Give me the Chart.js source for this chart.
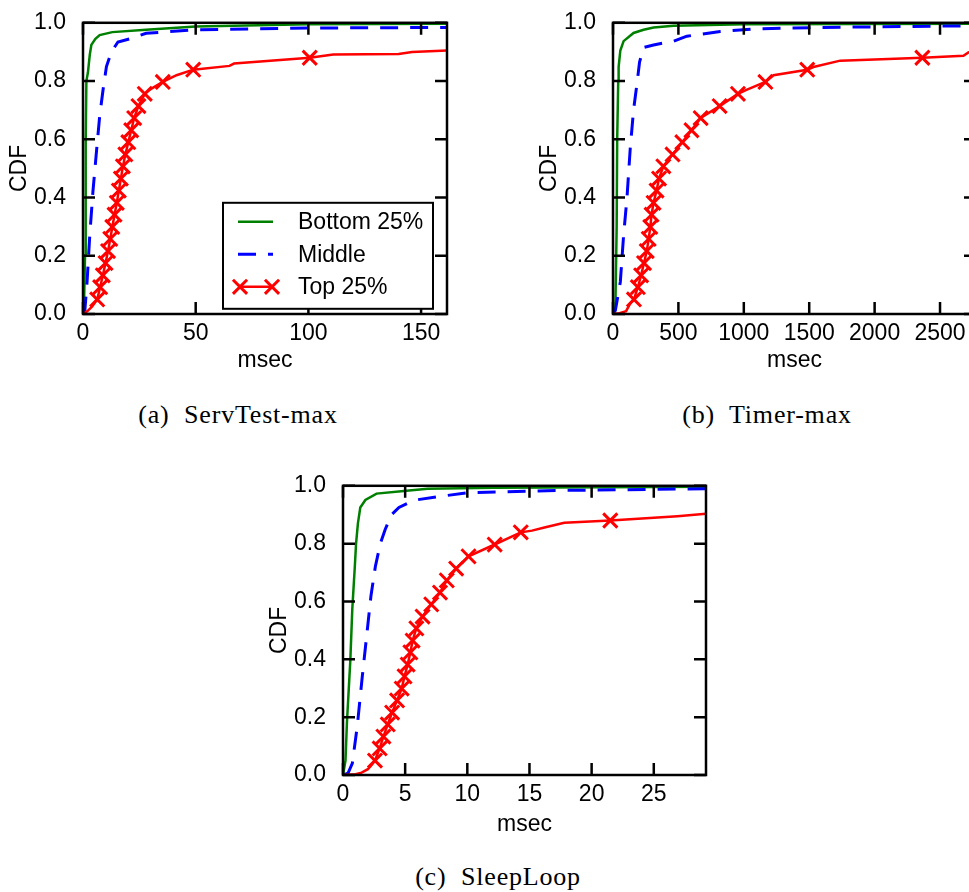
<!DOCTYPE html>
<html>
<head>
<meta charset="utf-8">
<script src="https://cdn.jsdelivr.net/npm/chart.js@4.4.1/dist/chart.umd.min.js"></script>
<style>
  html, body { margin: 0; padding: 0; width: 969px; height: 892px; overflow: hidden; background: #fff; }
  canvas { position: absolute; }
  .cap {
    position: absolute;
    font-family: 'Liberation Serif', 'Times New Roman', serif;
    font-size: 26px;
    line-height: 26px;
    letter-spacing: 0.8px;
    white-space: pre;
    color: #000;
    transform: translateX(-50%);
  }
</style>
</head>
<body>
<canvas id="servChart" width="460" height="380" style="left:0px;top:0px"></canvas>
<canvas id="timerChart" width="459" height="380" style="left:530px;top:0px"></canvas>
<canvas id="sleepChart" width="459" height="378" style="left:260px;top:463px"></canvas>
<div class="cap" style="left:238px;top:402px">(a)  ServTest-max</div>
<div class="cap" style="left:767px;top:402px">(b)  Timer-max</div>
<div class="cap" style="left:498px;top:864px">(c)  SleepLoop</div>

<script>
// tick labels
const yTicks = [0, 0.2, 0.4, 0.6, 0.8, 1.0];
const servTicks = [0, 50, 100, 150];
const timerTicks = [0, 500, 1000, 1500, 2000, 2500];
const sleepTicks = [0, 5, 10, 15, 20, 25];
const seriesNames = ['Bottom 25%', 'Middle', 'Top 25%'];

// CDF levels where the "Top 25%" curve carries an X marker (same in all panels)
const markCdf = [0.05, 0.092, 0.133, 0.175, 0.216, 0.258, 0.299, 0.341, 0.382, 0.424, 0.465,
                 0.507, 0.548, 0.59, 0.631, 0.673, 0.714, 0.756, 0.797, 0.839, 0.88];

// (a) ServTest-max, msec
const servBottomMs  = [0, 0.5, 0.9, 1.2, 1.5, 2.2, 3.0, 3.7, 5.5, 7.4, 13, 28, 50, 100, 161.5];
const servBottomCdf = [0, 0.05, 0.2, 0.6, 0.8, 0.83, 0.89, 0.924, 0.945, 0.958, 0.968, 0.976, 0.987, 0.995, 0.997];
const servMiddleMs  = [0, 0.8, 1.8, 3.0, 4.4, 6.0, 7.4, 8.9, 10.4, 12.6, 15.5, 20.7, 28, 50, 100, 161.5];
const servMiddleCdf = [0, 0.01, 0.11, 0.27, 0.42, 0.56, 0.68, 0.77, 0.85, 0.9, 0.934, 0.945, 0.964, 0.976, 0.982, 0.984];
const servTopMs  = [0, 2, 4, 6.3, 7.6, 8.8, 10.0, 11.1, 12.1, 13.0, 14.0, 15.0, 15.9, 16.8, 17.7, 18.8, 20.1, 21.4,
                    22.7, 24.6, 27.4, 30.4, 35.4, 41.5, 48.9, 65, 67, 100.6, 111, 140, 146, 161.5];
const servTopCdf = [0, 0.01, 0.025, 0.05, 0.092, 0.133, 0.175, 0.216, 0.258, 0.299, 0.341, 0.382, 0.424, 0.465, 0.507,
                    0.548, 0.59, 0.631, 0.673, 0.714, 0.756, 0.774, 0.797, 0.82, 0.839, 0.852, 0.86, 0.88, 0.891,
                    0.893, 0.9, 0.905];
const servTopMarkMs = [6.3, 7.6, 8.8, 10.0, 11.1, 12.1, 13.0, 14.0, 15.0, 15.9, 16.8, 17.7, 18.8, 20.1, 21.4, 22.7,
                       24.6, 27.4, 35.4, 48.9, 100.6];

// (b) Timer-max, msec
const timerBottomMs  = [0, 18, 28, 32, 40, 43, 56, 81, 157, 234, 310, 463, 1000, 2775];
const timerBottomCdf = [0, 0.02, 0.3, 0.6, 0.8, 0.848, 0.905, 0.937, 0.965, 0.976, 0.984, 0.99, 0.995, 0.997];
const timerMiddleMs  = [0, 18, 56, 81, 107, 132, 157, 183, 203, 234, 310, 463, 540, 565, 820, 1074, 1584, 2775];
const timerMiddleCdf = [0, 0.012, 0.11, 0.27, 0.40, 0.57, 0.70, 0.79, 0.865, 0.915, 0.924, 0.937, 0.95, 0.954,
                        0.97, 0.979, 0.984, 0.99];
const timerTopMs  = [0, 50, 100, 130, 160, 190, 215, 237, 258, 273, 285, 295, 310, 333, 352, 385, 455, 530, 600,
                     670, 815, 955, 1020, 1165, 1227, 1485, 1532, 1737, 2365, 2679, 2717, 2775];
const timerTopCdf = [0, 0.003, 0.01, 0.035, 0.05, 0.092, 0.133, 0.175, 0.216, 0.258, 0.299, 0.341, 0.382, 0.424,
                     0.465, 0.507, 0.548, 0.59, 0.631, 0.673, 0.714, 0.756, 0.77, 0.797, 0.82, 0.839, 0.848, 0.87,
                     0.88, 0.887, 0.898, 0.905];
const timerTopMarkMs = [160, 190, 215, 237, 258, 273, 285, 295, 310, 333, 352, 385, 455, 530, 600, 670, 815, 955,
                        1165, 1485, 2365];

// (c) SleepLoop, msec
const sleepBottomMs  = [0, 0.2, 0.32, 0.59, 0.75, 0.95, 1.05, 1.2, 1.39, 1.8, 2.7, 4.9, 6.8, 12.1, 29.2];
const sleepBottomCdf = [0, 0.05, 0.185, 0.397, 0.576, 0.72, 0.8, 0.87, 0.925, 0.951, 0.973, 0.982, 0.99, 0.993, 0.997];
const sleepMiddleMs  = [0, 0.4, 0.75, 1.15, 1.55, 1.9, 2.25, 2.6, 3.0, 3.4, 3.9, 4.5, 5.7, 7.6, 10, 17.5, 29.2];
const sleepMiddleCdf = [0, 0.006, 0.04, 0.17, 0.34, 0.48, 0.62, 0.72, 0.8, 0.85, 0.9, 0.925, 0.95, 0.962, 0.976,
                        0.984, 0.99];
const sleepTopMs  = [0, 1, 1.5, 2.0, 2.3, 2.57, 2.95, 3.25, 3.6, 3.95, 4.35, 4.72, 4.95, 5.2, 5.42, 5.6, 5.9, 6.4,
                     7.1, 7.8, 8.35, 9.1, 10.1, 12.2, 14.3, 15.2, 16.2, 17.8, 21.5, 26.9, 29.2];
const sleepTopCdf = [0, 0.003, 0.008, 0.02, 0.035, 0.05, 0.092, 0.133, 0.175, 0.216, 0.258, 0.299, 0.341, 0.382,
                     0.424, 0.465, 0.507, 0.548, 0.59, 0.631, 0.673, 0.714, 0.756, 0.797, 0.839, 0.845, 0.856,
                     0.872, 0.88, 0.895, 0.903];
const sleepTopMarkMs = [2.57, 2.95, 3.25, 3.6, 3.95, 4.35, 4.72, 4.95, 5.2, 5.42, 5.6, 5.9, 6.4, 7.1, 7.8, 8.35,
                        9.1, 10.1, 12.2, 14.3, 21.5];

const GREEN = '#008000';
const BLUE = '#0000ff';
const RED = '#ff0000';

Chart.defaults.font.family = "'Liberation Sans', Arial, Helvetica, sans-serif";
Chart.defaults.font.size = 23;
Chart.defaults.color = '#000';

function pts(xs, ys) {
  return xs.map((v, i) => ({ x: v, y: ys[i] }));
}

// box + inward ticks on all four sides, like the original plots
const frame = {
  id: 'frame',
  afterDatasetsDraw(chart) {
    const { ctx, chartArea: a, scales: { x, y } } = chart;
    const len = 12;
    ctx.save();
    ctx.strokeStyle = '#000';
    ctx.lineWidth = 2.5;
    ctx.beginPath();
    x.ticks.forEach(t => {
      const px = x.getPixelForValue(t.value);
      ctx.moveTo(px, a.bottom); ctx.lineTo(px, a.bottom - len);
      ctx.moveTo(px, a.top); ctx.lineTo(px, a.top + len);
    });
    y.ticks.forEach(t => {
      const py = y.getPixelForValue(t.value);
      ctx.moveTo(a.left, py); ctx.lineTo(a.left + len, py);
      ctx.moveTo(a.right, py); ctx.lineTo(a.right - len, py);
    });
    ctx.stroke();
    ctx.strokeRect(a.left, a.top, a.right - a.left, a.bottom - a.top);
    ctx.restore();
  }
};

// legend drawn as a framed box inside the plot (only on panel a)
const boxLegend = {
  id: 'boxLegend',
  afterDraw(chart, args, opts) {
    if (!opts.show) return;
    const { ctx, chartArea: a } = chart;
    const left = a.left + 140, top = a.top + 180, w = 210, h = 106;
    ctx.save();
    ctx.fillStyle = '#fff';
    ctx.fillRect(left, top, w, h);
    ctx.strokeStyle = '#000';
    ctx.lineWidth = 2;
    ctx.strokeRect(left, top, w, h);
    seriesNames.forEach((name, i) => {
      const ds = chart.data.datasets.find(d => d.label === name);
      const y = top + 19 + i * 32.5;
      ctx.strokeStyle = ds.borderColor;
      ctx.lineWidth = ds.borderWidth;
      ctx.setLineDash(ds.borderDash || []);
      ctx.beginPath();
      ctx.moveTo(left + 15, y);
      ctx.lineTo(left + 50, y);
      ctx.stroke();
      ctx.setLineDash([]);
      if (name === 'Top 25%') {
        const mk = { pointStyle: 'crossRot', radius: 10, borderWidth: 3, rotation: 0 };
        ctx.lineWidth = 3;
        Chart.helpers.drawPoint(ctx, mk, left + 17, y);
        Chart.helpers.drawPoint(ctx, mk, left + 49, y);
      }
      ctx.fillStyle = '#000';
      ctx.font = "23px 'Liberation Sans', Arial, sans-serif";
      ctx.textBaseline = 'middle';
      ctx.textAlign = 'left';
      ctx.fillText(name, left + 75, y + 1);
    });
    ctx.restore();
  }
};

function makeChart(id, xMax, xTicks, bx, by, mx, my, tx, ty, tmx, titlePadB, showLegend) {
  return new Chart(document.getElementById(id), {
    type: 'scatter',
    data: {
      datasets: [
        { label: 'Top 25% marks', data: pts(tmx, markCdf), borderColor: RED, backgroundColor: RED,
          pointStyle: 'crossRot', pointRadius: 10, pointBorderWidth: 3, showLine: false },
        { label: 'Top 25%', data: pts(tx, ty), borderColor: RED, borderWidth: 2.5,
          showLine: true, pointRadius: 0 },
        { label: 'Middle', data: pts(mx, my), borderColor: BLUE, borderWidth: 3, borderDash: [18, 12],
          showLine: true, pointRadius: 0 },
        { label: 'Bottom 25%', data: pts(bx, by), borderColor: GREEN, borderWidth: 2.5,
          showLine: true, pointRadius: 0 }
      ]
    },
    options: {
      responsive: false,
      animation: false,
      events: [],
      layout: { padding: { top: 14, right: 13, left: 0, bottom: 0 } },
      plugins: {
        legend: { display: false },
        tooltip: { enabled: false },
        boxLegend: { show: showLegend }
      },
      scales: {
        x: {
          type: 'linear',
          min: 0,
          max: xMax,
          afterBuildTicks: s => { s.ticks = xTicks.map(v => ({ value: v })); },
          afterFit: s => { s.height = 66; },
          grid: { display: false },
          border: { display: false },
          ticks: { padding: -2, maxRotation: 0, autoSkip: false, callback: v => String(v) },
          title: { display: true, text: 'msec', padding: { top: 0, bottom: titlePadB } }
        },
        y: {
          type: 'linear',
          min: 0,
          max: 1,
          afterBuildTicks: s => { s.ticks = yTicks.map(v => ({ value: v })); },
          afterFit: s => { s.width = 83; },
          grid: { display: false },
          border: { display: false },
          ticks: { padding: 9, callback: v => v.toFixed(1) },
          title: { display: true, text: 'CDF', padding: { top: 6, bottom: 0 } }
        }
      }
    },
    plugins: [frame, boxLegend]
  });
}

makeChart('servChart', 161.5, servTicks, servBottomMs, servBottomCdf, servMiddleMs, servMiddleCdf,
          servTopMs, servTopCdf, servTopMarkMs, 6, true);
makeChart('timerChart', 2775, timerTicks, timerBottomMs, timerBottomCdf, timerMiddleMs, timerMiddleCdf,
          timerTopMs, timerTopCdf, timerTopMarkMs, 6, false);
makeChart('sleepChart', 29.2, sleepTicks, sleepBottomMs, sleepBottomCdf, sleepMiddleMs, sleepMiddleCdf,
          sleepTopMs, sleepTopCdf, sleepTopMarkMs, 3, false);
</script>
</body>
</html>
